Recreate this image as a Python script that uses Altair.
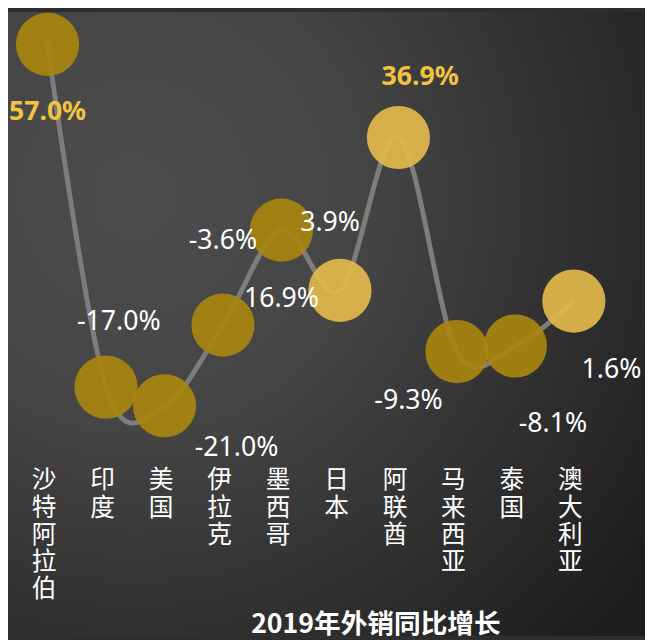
import altair as alt
import pandas as pd

# ---- data ----
countries = ["沙特阿拉伯", "印度", "美国", "伊拉克", "墨西哥", "日本", "阿联酋", "马来西亚", "泰国", "澳大利亚"]
growth = [57.0, -17.0, -21.0, -3.6, 16.9, 3.9, 36.9, -9.3, -8.1, 1.6]
light_circle = ["日本", "阿联酋", "澳大利亚"]
highlight_label = ["沙特阿拉伯", "阿联酋"]

# ---- label placement relative to each circle (style, pixels) ----
label_dx = [0, 13, 73, 0, 0, -10, 22, -49, 38, 38]
label_dy = [69, -66, 43, -85, 70, -68, -61, 50, 79, 70]

W, H = 613, 441
Y_DOMAIN = [-30, 64]
PAD = {"left": 0, "top": 0, "right": 32, "bottom": 191}
UNITS_PER_PX = (Y_DOMAIN[1] - Y_DOMAIN[0]) / H

df = pd.DataFrame({
    "country": countries,
    "growth": growth,
    "order": list(range(len(countries))),
})
df["tone"] = ["light" if c in light_circle else "dark" for c in countries]
df["hl"] = ["yes" if c in highlight_label else "no" for c in countries]
df["label"] = [f"{v:.1f}%" for v in growth]
df["dx"] = label_dx
df["dy"] = label_dy

x = alt.X(
    "country:N",
    sort=countries,
    scale=alt.Scale(type="point", padding=0.676),
    axis=alt.Axis(
        title=None, labelAngle=0, domain=False, ticks=False, grid=False,
        labelExpr="split(datum.label, '')",
        labelFont="Noto Sans CJK SC", labelFontSize=25, labelLineHeight=27.5,
        labelColor="#ffffff", labelBaseline="top", labelPadding=21,
        labelOffset=-4, zindex=2,
    ),
)
y = alt.Y("growth:Q", scale=alt.Scale(domain=Y_DOMAIN, nice=False, zero=False), axis=None)
ylab = alt.Y("ly:Q", scale=alt.Scale(domain=Y_DOMAIN, nice=False, zero=False), axis=None)

base = alt.Chart(df)

bg = alt.Chart(pd.DataFrame({"a": [0]})).mark_rect(
    fill=alt.Gradient(
        gradient="radial",
        stops=[alt.GradientStop(color="#4c4c4c", offset=0),
               alt.GradientStop(color="#454545", offset=0.35),
               alt.GradientStop(color="#1d1d1d", offset=1)],
        x1=0.2, y1=0.3, r1=0, x2=0.2, y2=0.3, r2=1.0,
    )
).encode(
    x=alt.value(-PAD["left"]), x2=alt.value(W + PAD["right"]),
    y=alt.value(-PAD["top"]), y2=alt.value(H + PAD["bottom"]),
)

line = base.mark_line(interpolate="cardinal", color="#7d7d7d", strokeWidth=5).encode(
    x=x, y=y, order="order:Q"
)

circles = base.mark_circle(size=4096, opacity=0.92).encode(
    x=x, y=y,
    color=alt.Color("tone:N", scale=alt.Scale(domain=["dark", "light"], range=["#A8860F", "#E2B94A"]), legend=None),
)

lab_base = base.transform_calculate(ly=f"datum.growth - datum.dy * {UNITS_PER_PX}")

labels_normal = lab_base.transform_filter("datum.hl == 'no'").mark_text(
    font="Noto Sans", fontSize=27, color="#ffffff", baseline="middle", align="center"
).encode(
    x=x, y=ylab, text="label:N",
    xOffset=alt.XOffset("dx:Q", scale=None),
)

labels_hl = lab_base.transform_filter("datum.hl == 'yes'").mark_text(
    font="Noto Sans", fontSize=27, fontWeight="bold", color="#F0C341", baseline="middle", align="center"
).encode(
    x=x, y=ylab, text="label:N",
    xOffset=alt.XOffset("dx:Q", scale=None),
)

chart = alt.layer(bg, line, circles, labels_normal, labels_hl).properties(
    width=W, height=H,
    padding=PAD,
    autosize=alt.AutoSizeParams(type="none"),
    background="#2e2e2e",
    title=alt.Title(
        "2019年外销同比增长", orient="bottom", anchor="middle",
        font="Noto Sans CJK SC", fontSize=27, fontWeight="bold", color="#ffffff",
        dx=66, offset=-24, zindex=2,
    ),
).configure_view(stroke=None)

chart.save("out.html", embed_options={"renderer": "svg", "actions": False})
